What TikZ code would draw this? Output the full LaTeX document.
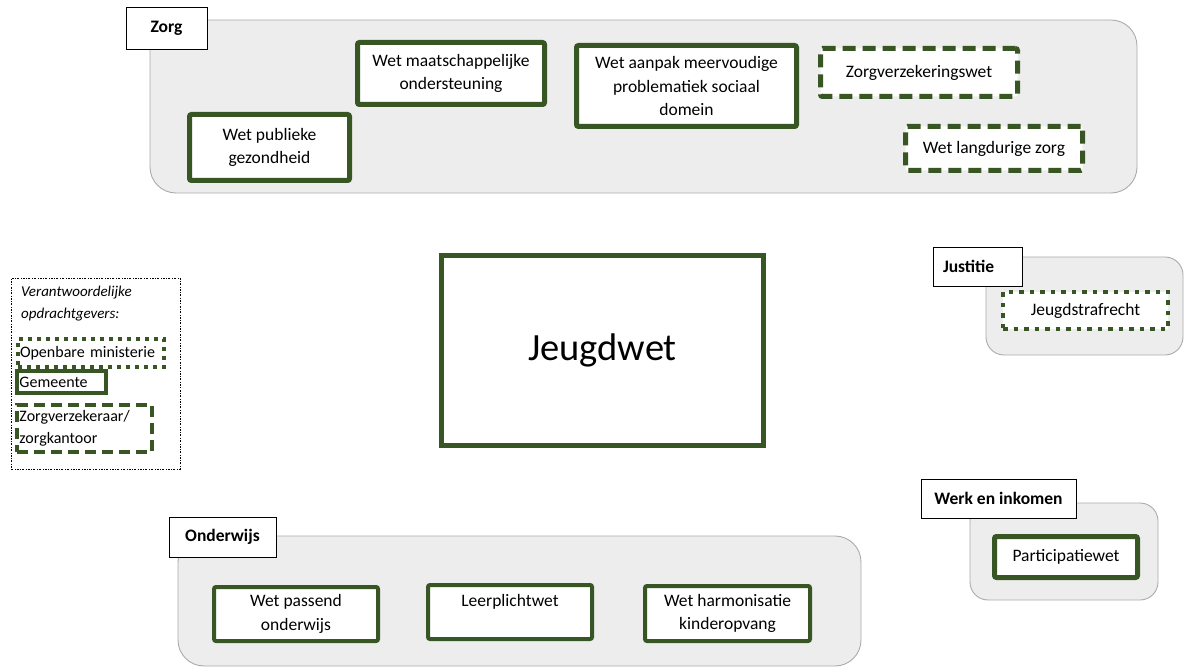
\documentclass[tikz,border=0pt]{standalone}
\usepackage{fontspec}
\setmainfont{Carlito}
\definecolor{grn}{HTML}{375623}
\definecolor{grp}{HTML}{EDEDED}
\definecolor{grpline}{HTML}{ABABAB}
\begin{document}
\begin{tikzpicture}[x=1pt,y=-1pt,
  font=\fontsize{17.5}{23.5}\selectfont,
  group/.style={draw=grpline, fill=grp, line width=0.9pt, rounded corners=26pt, inner sep=0pt},
  tag/.style={draw=black, fill=white, line width=0.9pt, inner sep=0pt, font=\fontsize{17.5}{20}\selectfont\bfseries},
  law/.style={draw=grn, fill=white, line width=5pt, rounded corners=2pt, inner sep=0pt, align=center},
  lawdash/.style={law, dash pattern=on 13pt off 7pt},
  lawdot/.style={law, line width=4.5pt, rounded corners=0pt, dash pattern=on 4.5pt off 6pt},
  legbox/.style={draw=grn, fill=white, line width=4pt, inner xsep=2.5pt, inner ysep=0pt, align=left, font=\fontsize{16}{21.5}\selectfont},
]
\useasboundingbox (0,0) rectangle (1184,668);
\fill[white] (0,0) rectangle (1184,668);

% group backgrounds
\node[group, minimum width=987pt, minimum height=173pt] (zorg) at (643.5,106.5) {};
\node[group, minimum width=197pt, minimum height=98pt, rounded corners=18pt] (justitie) at (1084.5,306) {};
\node[group, minimum width=188pt, minimum height=97pt, rounded corners=18pt] (werk) at (1064,551.5) {};
\node[group, minimum width=683pt, minimum height=130pt] (onderwijs) at (519.5,601) {};

% group tags
\node[tag, minimum width=81pt, minimum height=42pt] (zorgtag) at (166.5,28) {Zorg};
\node[tag, text width=69pt, inner xsep=10pt, align=left, minimum height=39pt] (justitietag) at (977.5,266.5) {Justitie};
\node[tag, minimum width=155pt, minimum height=39pt] (werktag) at (998.5,498.5) {Werk en inkomen};
\node[tag, minimum width=107pt, minimum height=40pt] (onderwijstag) at (222.5,537) {Onderwijs};

% Zorg laws
\node[law, minimum width=160pt, minimum height=66pt] (wpg) at (269.5,147.5) {Wet publieke\\gezondheid};
\node[law, minimum width=187pt, minimum height=62pt] (wmo) at (451,73.5) {Wet maatschappelijke\\ondersteuning};
\node[law, minimum width=220pt, minimum height=81pt] (wampsd) at (686.5,86) {Wet aanpak meervoudige\\problematiek sociaal\\domein};
\node[lawdash, minimum width=197pt, minimum height=48pt] (zvw) at (919,72.5) {Zorgverzekeringswet};
\node[lawdash, minimum width=177pt, minimum height=44pt] (wlz) at (994,148.5) {Wet langdurige zorg};

% Jeugdwet
\node[law, line width=5pt, rounded corners=0pt, minimum width=322pt, minimum height=190pt, font=\fontsize{38.5}{42}\selectfont] (jw) at (602.5,350.5) {Jeugdwet};

% Justitie
\node[lawdot, minimum width=165pt, minimum height=37pt] (jsr) at (1085.5,310.5) {Jeugdstrafrecht};

% Werk en inkomen
\node[law, minimum width=143pt, minimum height=41pt] (pw) at (1066,557) {Participatiewet};

% Onderwijs
\node[law, line width=4pt, minimum width=164pt, minimum height=54pt] (wpo) at (296,614) {Wet passend\\onderwijs};
\node[law, line width=4pt, minimum width=164pt, minimum height=54pt] (lpw) at (510,612) {Leerplichtwet\\[-7pt]\strut};
\node[law, line width=4pt, minimum width=165pt, minimum height=55pt] (whk) at (727.5,613.5) {Wet harmonisatie\\kinderopvang};

% Legend
\node[draw=black, line width=0.7pt, dash pattern=on 2pt off 1.5pt on 0.6pt off 1.5pt, minimum width=169pt, minimum height=191pt, inner sep=0pt] (legend) at (95.5,373.5) {};
\node[anchor=north west, align=left, inner sep=0pt, font=\fontsize{15}{22}\selectfont\itshape] (legtitle) at (21,286) {Verantwoordelijke\\opdrachtgevers:};
\node[legbox, dash pattern=on 4pt off 5pt, text width=141pt, minimum height=28pt] (om) at (90.5,353) {Openbare ministerie};
\node[legbox, text width=84pt, minimum height=22pt] (gem) at (61.5,382) {Gemeente};
\node[legbox, dash pattern=on 11pt off 6pt, text width=130pt, minimum height=47pt] (zk) at (84.5,428.5) {Zorgverzekeraar/\\zorgkantoor};
\end{tikzpicture}
\end{document}
